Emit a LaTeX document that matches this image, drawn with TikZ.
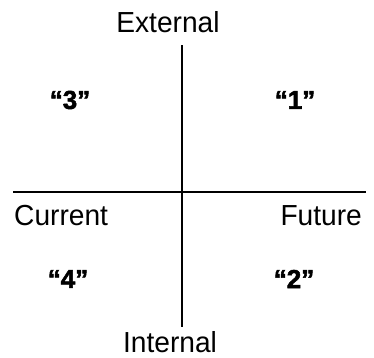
\documentclass[tikz,border=0pt]{standalone}
\usepackage{fontspec}
\setmainfont{Liberation Sans}
\newfontfamily\labfont[FakeStretch=0.97]{Liberation Sans}
\newfontfamily\quadfont[FakeBold=2]{Liberation Sans Bold}
\begin{document}
\begin{tikzpicture}[x=1pt,y=1pt,
  axislabel/.style={inner sep=0pt,font=\labfont\fontsize{29}{30}\selectfont},
  quadlabel/.style={inner sep=0pt,font=\quadfont\fontsize{26}{27}\selectfont},
  axis/.style={line width=2pt}]
\useasboundingbox (0,0) rectangle (374,357);
\coordinate (top) at (182,312);
\coordinate (bottom) at (182,30);
\coordinate (left) at (13,165);
\coordinate (right) at (366,165);
\draw[axis] (top) -- (bottom);
\draw[axis] (left) -- (right);
\node[axislabel,anchor=base] (ext) at (168,324) {External};
\node[axislabel,anchor=base west] (cur) at (14,132) {Current};
\node[axislabel,anchor=base east] (fut) at (362,132) {Future};
\node[axislabel,anchor=base] (int) at (170,5) {Internal};
\node[quadlabel] (q3) at (70,257) {“3”};
\node[quadlabel] (q1) at (295,257) {“1”};
\node[quadlabel] (q4) at (68,78) {“4”};
\node[quadlabel] (q2) at (294,78) {“2”};
\end{tikzpicture}
\end{document}
